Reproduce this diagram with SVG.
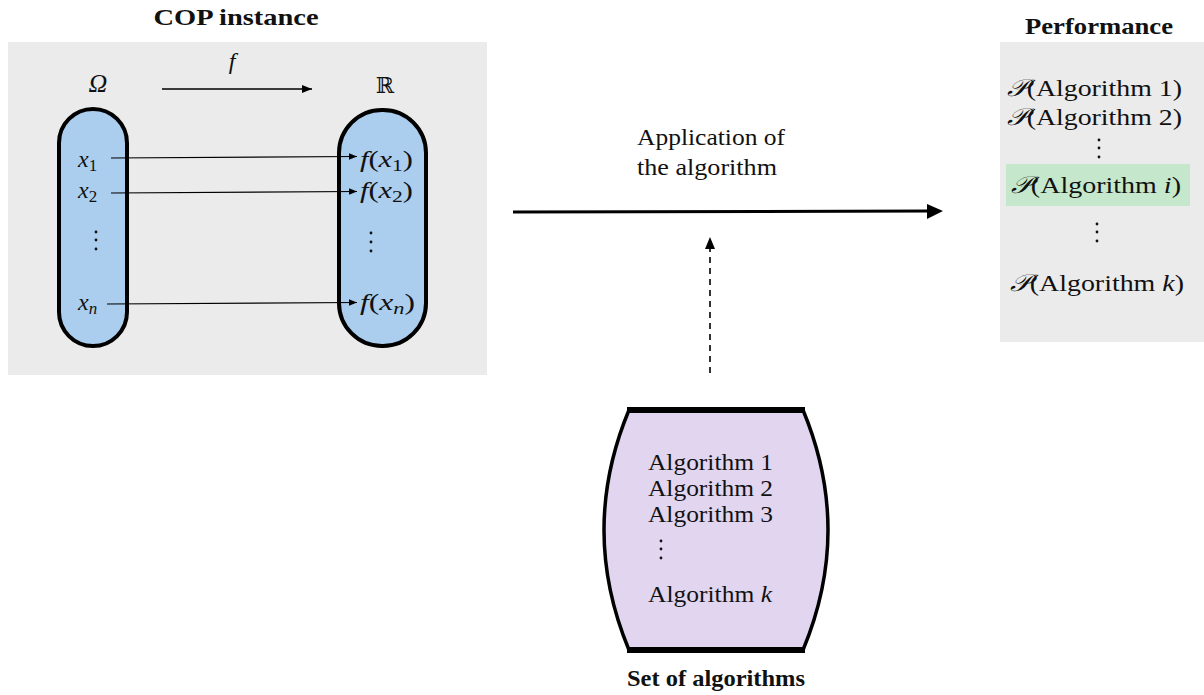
<svg xmlns="http://www.w3.org/2000/svg" width="1204" height="695" viewBox="0 0 1204 695" font-family="'Liberation Serif', 'DejaVu Serif', serif">
<defs>
<marker id="ah" viewBox="0 0 10 10" refX="10" refY="5" markerWidth="8" markerHeight="8" markerUnits="userSpaceOnUse" orient="auto"><path d="M0,1 L10,5 L0,9 Z" fill="#000"/></marker>
<marker id="ah2" viewBox="0 0 10 10" refX="10" refY="5" markerWidth="10" markerHeight="10" markerUnits="userSpaceOnUse" orient="auto"><path d="M0,1 L10,5 L0,9 Z" fill="#000"/></marker>
</defs>
<style>
text{font-family:"Liberation Serif","DejaVu Serif",serif;font-size:24px;fill:#111}
.b{font-weight:bold}
.i{font-style:italic}
.sub{font-size:17px}
.panel{fill:#ebebeb}
.cap{fill:#abcdee;stroke:#000;stroke-width:4}
.thin{stroke:#000;stroke-width:1.2;fill:none}
.dot{fill:#111}
</style>
<g id="cop-instance">
<rect class="panel" x="8" y="42" width="479" height="333"/>
<text class="b" x="236" y="25" text-anchor="middle" textLength="165" lengthAdjust="spacingAndGlyphs">COP instance</text>
<text class="i" x="98" y="92" text-anchor="middle" style="font-size:26px">Ω</text>
<text class="i" x="232" y="69" text-anchor="middle">f</text>
<text x="385" y="93" text-anchor="middle" style="font-family:'DejaVu Serif',serif;font-size:22px">ℝ</text>
<line x1="162" y1="89" x2="312" y2="89" stroke="#000" stroke-width="1.6" marker-end="url(#ah2)"/>
</g>
<g id="omega-set">
<rect class="cap" x="59" y="109" width="68" height="237" rx="34" ry="34"/>
<text class="i" x="78" y="167">x<tspan class="sub" dy="4" style="font-style:normal">1</tspan></text>
<text class="i" x="78" y="198">x<tspan class="sub" dy="4" style="font-style:normal">2</tspan></text>
<circle class="dot" cx="96" cy="232" r="1.4"/><circle class="dot" cx="96" cy="240" r="1.4"/><circle class="dot" cx="96" cy="249" r="1.4"/>
<text class="i" x="78" y="310">x<tspan class="sub" dy="4">n</tspan></text>
</g>
<g id="real-set">
<rect class="cap" x="339" y="110" width="87" height="236" rx="43" ry="43"/>
<text x="360" y="167" textLength="53" lengthAdjust="spacingAndGlyphs"><tspan class="i">f</tspan>(<tspan class="i">x</tspan><tspan class="sub" dy="4">1</tspan><tspan dy="-4">)</tspan></text>
<text x="360" y="198" textLength="53" lengthAdjust="spacingAndGlyphs"><tspan class="i">f</tspan>(<tspan class="i">x</tspan><tspan class="sub" dy="4">2</tspan><tspan dy="-4">)</tspan></text>
<circle class="dot" cx="371" cy="233" r="1.4"/><circle class="dot" cx="371" cy="242" r="1.4"/><circle class="dot" cx="371" cy="251" r="1.4"/>
<text x="360" y="310" textLength="55" lengthAdjust="spacingAndGlyphs"><tspan class="i">f</tspan>(<tspan class="i">x</tspan><tspan class="sub i" dy="4">n</tspan><tspan dy="-4">)</tspan></text>
</g>
<g id="performance">
<rect class="panel" x="1000" y="42" width="204" height="300"/>
<text class="b" x="1099" y="34" text-anchor="middle" textLength="148" lengthAdjust="spacingAndGlyphs">Performance</text>
<rect x="1006" y="164" width="184" height="42" fill="#c5e8cc"/>
<text x="1007" y="96" textLength="175" lengthAdjust="spacingAndGlyphs"><tspan class="i">𝒫</tspan>(Algorithm 1)</text>
<text x="1007" y="125" textLength="175" lengthAdjust="spacingAndGlyphs"><tspan class="i">𝒫</tspan>(Algorithm 2)</text>
<circle class="dot" cx="1099" cy="140" r="1.4"/><circle class="dot" cx="1099" cy="148" r="1.4"/><circle class="dot" cx="1099" cy="157" r="1.4"/>
<text x="1011" y="193" textLength="170" lengthAdjust="spacingAndGlyphs"><tspan class="i">𝒫</tspan>(Algorithm <tspan class="i">i</tspan>)</text>
<circle class="dot" cx="1097" cy="224" r="1.4"/><circle class="dot" cx="1097" cy="232" r="1.4"/><circle class="dot" cx="1097" cy="241" r="1.4"/>
<text x="1010" y="291" textLength="174" lengthAdjust="spacingAndGlyphs"><tspan class="i">𝒫</tspan>(Algorithm <tspan class="i">k</tspan>)</text>
</g>
<g id="algorithm-set">
<path d="M629,410 L803,410 Q853,530 803,650 L629,650 Q579,530 629,410 Z" fill="#e1d5f0" stroke="none"/>
<path d="M803,410 Q853,530 803,650 M629,650 Q579,530 629,410" fill="none" stroke="#000" stroke-width="3.5"/>
<line x1="627" y1="410" x2="805" y2="410" stroke="#000" stroke-width="6"/>
<line x1="627" y1="650" x2="805" y2="650" stroke="#000" stroke-width="6"/>
<text x="648" y="470" textLength="125" lengthAdjust="spacingAndGlyphs">Algorithm 1</text>
<text x="648" y="496" textLength="125" lengthAdjust="spacingAndGlyphs">Algorithm 2</text>
<text x="648" y="522" textLength="125" lengthAdjust="spacingAndGlyphs">Algorithm 3</text>
<circle class="dot" cx="661" cy="541" r="1.4"/><circle class="dot" cx="661" cy="549" r="1.4"/><circle class="dot" cx="661" cy="558" r="1.4"/>
<text x="648" y="602" textLength="124" lengthAdjust="spacingAndGlyphs">Algorithm <tspan class="i">k</tspan></text>
<text class="b" x="716" y="686" text-anchor="middle" textLength="178" lengthAdjust="spacingAndGlyphs">Set of algorithms</text>
</g>
<g id="connectors">
<line class="thin" x1="111" y1="158" x2="357" y2="156.5" marker-end="url(#ah)"/>
<line class="thin" x1="111" y1="193" x2="357" y2="191.5" marker-end="url(#ah)"/>
<line class="thin" x1="107" y1="304" x2="357" y2="302.5" marker-end="url(#ah)"/>
<line x1="513" y1="212" x2="930" y2="211" stroke="#000" stroke-width="3"/>
<polygon points="927,204 943,211 927,219" fill="#000"/>
<line x1="710" y1="373" x2="710" y2="247" stroke="#000" stroke-width="1.6" stroke-dasharray="6,5"/>
<polygon points="705,249 710,237 715,249" fill="#000"/>
<text x="637" y="145" textLength="148" lengthAdjust="spacingAndGlyphs">Application of</text>
<text x="637" y="175" textLength="140" lengthAdjust="spacingAndGlyphs">the algorithm</text>
</g>
</svg>
